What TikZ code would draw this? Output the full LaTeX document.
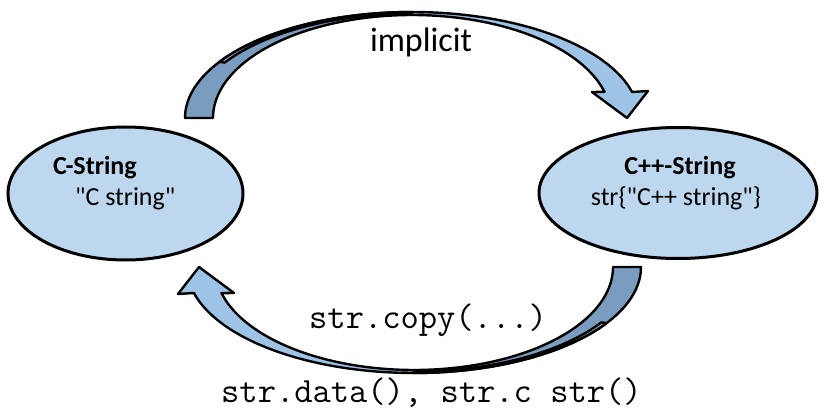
\documentclass[tikz,border=0pt]{standalone}
\usepackage{fontspec}
\setmainfont{Carlito}
\usetikzlibrary{shapes.geometric}
\definecolor{ellfill}{RGB}{189,215,238}
\definecolor{armdark}{RGB}{122,156,190}
\definecolor{armlight}{RGB}{157,195,230}
\newcommand\curvedblockarrow{%
  \filldraw[armback] plot[domain=180:270,samples=60] ({412+227*cos(\x)},{118+106*sin(\x)})
     -- plot[domain=270:180,samples=60] ({412+199*cos(\x)},{118+103*sin(\x)}) -- cycle;
  \filldraw[armfront] plot[domain=212:270,samples=40] ({412+227*cos(\x)},{118+106*sin(\x)})
     -- plot[domain=270:212,samples=40] ({412+221*cos(\x)},{118+104.5*sin(\x)}) -- cycle;
  \filldraw[armfront] plot[domain=270:345.8,samples=60] ({412+227*cos(\x)},{118+106*sin(\x)})
     -- (648,91) -- (627,118) -- (592,92)
     -- plot[domain=345.3:270,samples=60] ({412+199*cos(\x)},{118+103*sin(\x)}) -- cycle;
}
\begin{document}
\begin{tikzpicture}[x=1pt,y=-1pt,
  ell/.style={ellipse, draw=black, line width=3pt, fill=ellfill, inner sep=0pt},
  armback/.style={fill=armdark, draw=black, line width=2.4pt, line join=round},
  armfront/.style={fill=armlight, draw=black, line width=2.4pt, line join=round},
  lbl/.style={font=\fontsize{26}{30}\selectfont, text=black, inner sep=0pt},
  code/.style={font=\ttfamily\fontsize{35.5}{40}\selectfont, text=black, inner sep=0pt}]
\useasboundingbox (0,0) rectangle (820,409);
% block arrows
\curvedblockarrow
\begin{scope}[rotate around={180:(413,192.5)}]
\curvedblockarrow
\end{scope}
% nodes
\node[ell, minimum width=235pt, minimum height=133pt] (cstr) at (125.5,193.5) {};
\node[ell, minimum width=278pt, minimum height=131pt] (cppstr) at (678,193) {};
\node[lbl, anchor=base west, font=\fontsize{26}{30}\selectfont\bfseries] (cstrtitle) at (53,175) {C-String};
\node[lbl, anchor=base west] (cstrval) at (75,205) {\textquotedbl C string\textquotedbl};
\node[lbl, anchor=base, font=\fontsize{26}{30}\selectfont\bfseries] (cpptitle) at (680,175) {C++-String};
\node[lbl, anchor=base] (cppval) at (676,205) {str\{\textquotedbl C++ string\textquotedbl\}};
\node[lbl, anchor=base, font=\fontsize{34}{40}\selectfont] (implicit) at (421,52) {implicit};
\node[code, anchor=base west] (copy) at (309,328) {str.copy(...)};
\node[code, anchor=base west] (data) at (221,402) {str.data(), str.c str()};
\end{tikzpicture}
\end{document}
